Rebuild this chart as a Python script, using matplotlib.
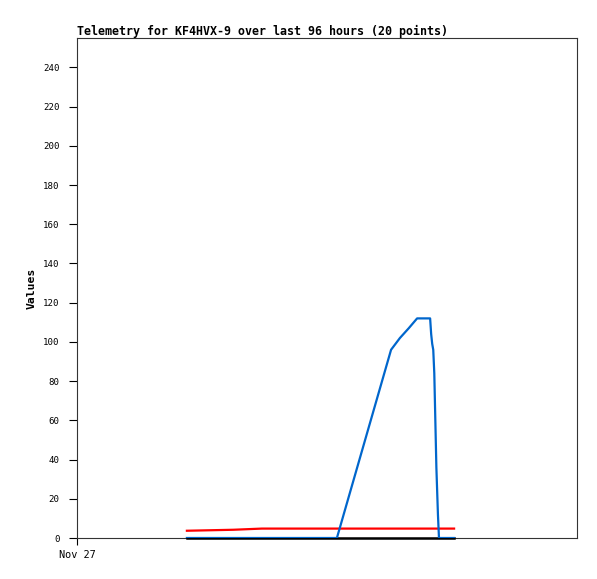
import matplotlib
matplotlib.use("Agg")
import matplotlib.pyplot as plt

# hours since start of window (Nov 27 00:00), 20 telemetry points
hours = [21.1, 30.0, 35.5, 49.9, 60.3, 62.0, 63.7, 65.3, 67.8, 68.0,
         68.2, 68.4, 68.6, 68.8, 69.0, 69.3, 69.5, 70.5, 71.5, 72.4]
ch_blue = [0, 0, 0, 0, 96, 102, 107, 112, 112, 104,
           99, 96, 84, 60, 36, 12, 0, 0, 0, 0]
ch_red = [3.7, 4.2, 4.8, 4.8, 4.8, 4.8, 4.8, 4.8, 4.8, 4.8,
          4.8, 4.8, 4.8, 4.8, 4.8, 4.8, 4.8, 4.8, 4.8, 4.8]
ch_black = [0] * 20
y_ticks = list(range(0, 241, 20))
x_ticks = [0]
x_labels = ["Nov 27"]

W, H = 597, 579
fig = plt.figure(figsize=(W / 100, H / 100), dpi=100)
ax = fig.add_axes([77 / W, (H - 538) / H, 500 / W, 500 / H])

ax.plot(hours, ch_black, color="black", lw=1.8, zorder=3, clip_on=False)
ax.plot(hours, ch_red, color="#ff0000", lw=1.6, zorder=2)
ax.plot(hours, ch_blue, color="#0066cc", lw=1.6, zorder=4)

ax.set_xlim(0, 96)
ax.set_ylim(0, 255)
ax.set_yticks(y_ticks)
ax.set_xticks(x_ticks)
ax.set_xticklabels(x_labels)

mono = "DejaVu Sans Mono"
ax.tick_params(axis="y", direction="out", length=6, width=0.8, pad=6.5,
               labelsize=6.6)
ax.tick_params(axis="x", direction="out", length=5, width=0.8, pad=4,
               labelsize=7.4)
for lab in ax.get_xticklabels() + ax.get_yticklabels():
    lab.set_family(mono)

for s in ax.spines.values():
    s.set_linewidth(0.8)
    s.set_color("#333333")

ax.set_title("Telemetry for KF4HVX-9 over last 96 hours (20 points)",
             family=mono, fontweight="bold", fontsize=8.35, loc="left", pad=2)
ax.set_ylabel("Values", family=mono, fontweight="bold", fontsize=8.2,
              labelpad=5)

fig.savefig("out.png", dpi=100)
